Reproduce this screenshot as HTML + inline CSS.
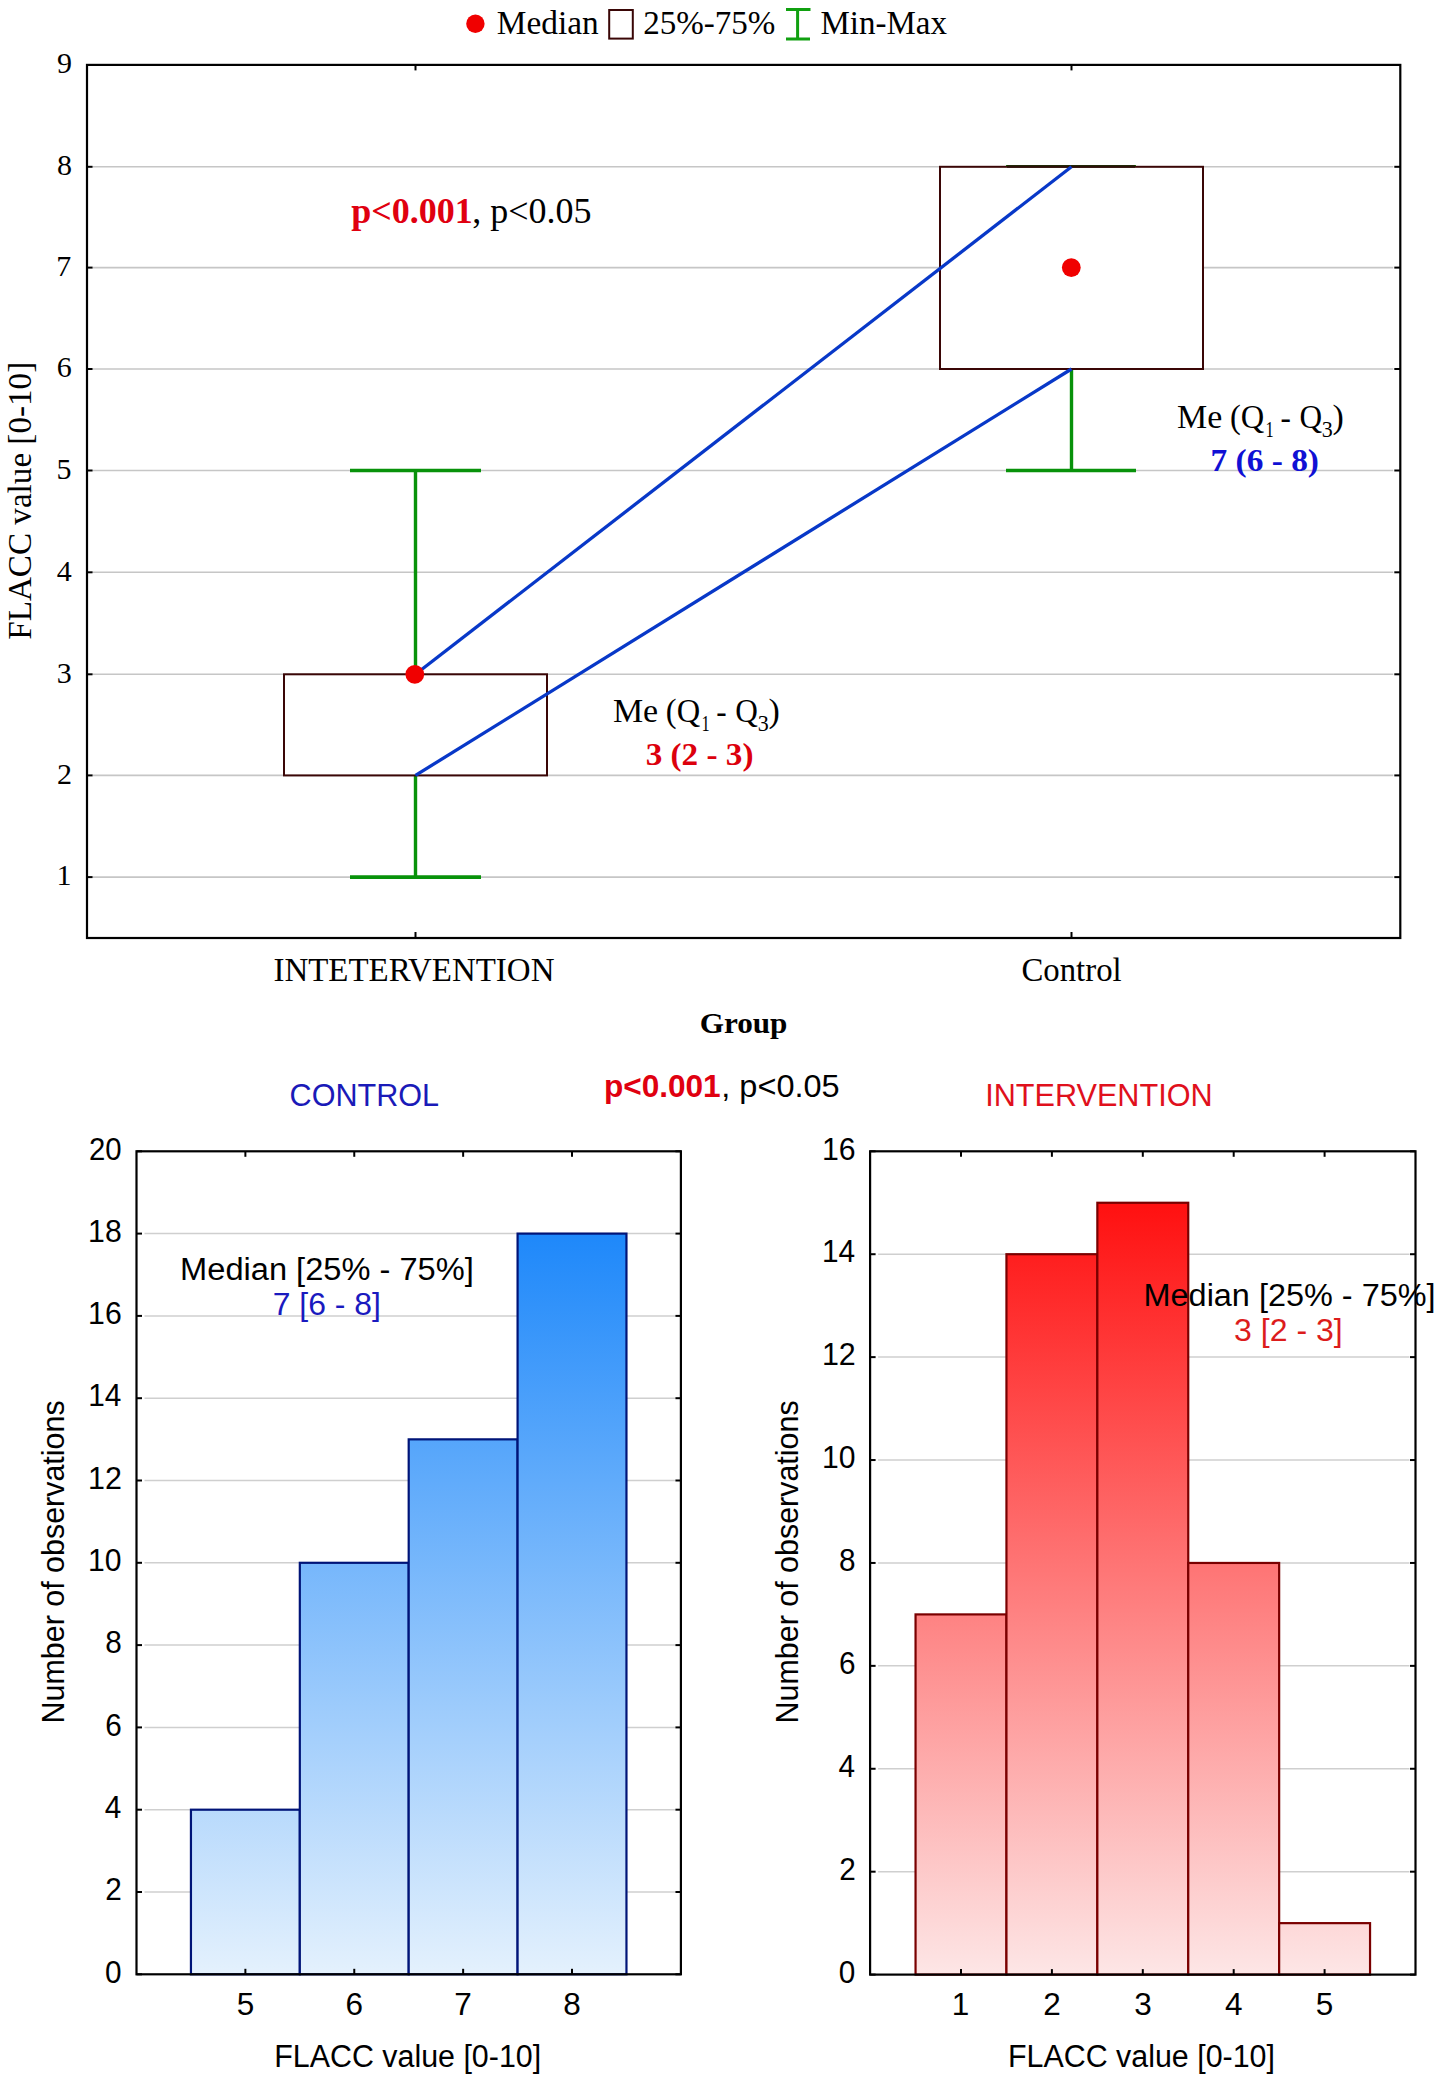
<!DOCTYPE html>
<html><head><meta charset="utf-8"><style>
html,body{margin:0;padding:0;background:#fff;overflow:hidden;}
svg{display:block;}
</style></head><body>
<svg width="1441" height="2081" viewBox="0 0 1441 2081">
<rect width="1441" height="2081" fill="#fff"/>
<line x1="92" y1="877.10" x2="1393.3" y2="877.10" stroke="#c6c6c6" stroke-width="1.6"/>
<line x1="92" y1="775.40" x2="1393.3" y2="775.40" stroke="#c6c6c6" stroke-width="1.6"/>
<line x1="92" y1="674.30" x2="1393.3" y2="674.30" stroke="#c6c6c6" stroke-width="1.6"/>
<line x1="92" y1="572.30" x2="1393.3" y2="572.30" stroke="#c6c6c6" stroke-width="1.6"/>
<line x1="92" y1="470.50" x2="1393.3" y2="470.50" stroke="#c6c6c6" stroke-width="1.6"/>
<line x1="92" y1="369.00" x2="1393.3" y2="369.00" stroke="#c6c6c6" stroke-width="1.6"/>
<line x1="92" y1="267.60" x2="1393.3" y2="267.60" stroke="#c6c6c6" stroke-width="1.6"/>
<line x1="92" y1="166.80" x2="1393.3" y2="166.80" stroke="#c6c6c6" stroke-width="1.6"/>
<line x1="87" y1="877.10" x2="92.5" y2="877.10" stroke="#000" stroke-width="2"/>
<line x1="1394.3" y1="877.10" x2="1400.3" y2="877.10" stroke="#000" stroke-width="2"/>
<line x1="87" y1="775.40" x2="92.5" y2="775.40" stroke="#000" stroke-width="2"/>
<line x1="1394.3" y1="775.40" x2="1400.3" y2="775.40" stroke="#000" stroke-width="2"/>
<line x1="87" y1="674.30" x2="92.5" y2="674.30" stroke="#000" stroke-width="2"/>
<line x1="1394.3" y1="674.30" x2="1400.3" y2="674.30" stroke="#000" stroke-width="2"/>
<line x1="87" y1="572.30" x2="92.5" y2="572.30" stroke="#000" stroke-width="2"/>
<line x1="1394.3" y1="572.30" x2="1400.3" y2="572.30" stroke="#000" stroke-width="2"/>
<line x1="87" y1="470.50" x2="92.5" y2="470.50" stroke="#000" stroke-width="2"/>
<line x1="1394.3" y1="470.50" x2="1400.3" y2="470.50" stroke="#000" stroke-width="2"/>
<line x1="87" y1="369.00" x2="92.5" y2="369.00" stroke="#000" stroke-width="2"/>
<line x1="1394.3" y1="369.00" x2="1400.3" y2="369.00" stroke="#000" stroke-width="2"/>
<line x1="87" y1="267.60" x2="92.5" y2="267.60" stroke="#000" stroke-width="2"/>
<line x1="1394.3" y1="267.60" x2="1400.3" y2="267.60" stroke="#000" stroke-width="2"/>
<line x1="87" y1="166.80" x2="92.5" y2="166.80" stroke="#000" stroke-width="2"/>
<line x1="1394.3" y1="166.80" x2="1400.3" y2="166.80" stroke="#000" stroke-width="2"/>
<line x1="87" y1="65.00" x2="92.5" y2="65.00" stroke="#000" stroke-width="2"/>
<line x1="1394.3" y1="65.00" x2="1400.3" y2="65.00" stroke="#000" stroke-width="2"/>
<line x1="415.5" y1="64.9" x2="415.5" y2="70.4" stroke="#000" stroke-width="2"/>
<line x1="415.5" y1="938" x2="415.5" y2="932" stroke="#000" stroke-width="2"/>
<line x1="1071.5" y1="64.9" x2="1071.5" y2="70.4" stroke="#000" stroke-width="2"/>
<line x1="1071.5" y1="938" x2="1071.5" y2="932" stroke="#000" stroke-width="2"/>
<text x="56.48" y="885.40" font-family="Liberation Serif" font-size="30" fill="#000">1</text>
<text x="57.07" y="783.70" font-family="Liberation Serif" font-size="30" fill="#000">2</text>
<text x="56.77" y="682.60" font-family="Liberation Serif" font-size="30" fill="#000">3</text>
<text x="56.84" y="580.60" font-family="Liberation Serif" font-size="30" fill="#000">4</text>
<text x="56.61" y="478.80" font-family="Liberation Serif" font-size="30" fill="#000">5</text>
<text x="56.70" y="377.30" font-family="Liberation Serif" font-size="30" fill="#000">6</text>
<text x="56.34" y="275.90" font-family="Liberation Serif" font-size="30" fill="#000">7</text>
<text x="56.90" y="175.10" font-family="Liberation Serif" font-size="30" fill="#000">8</text>
<text x="57.03" y="73.30" font-family="Liberation Serif" font-size="30" fill="#000">9</text>
<line x1="415.5" y1="470.50" x2="415.5" y2="877.10" stroke="#08920a" stroke-width="3.4"/>
<line x1="350" y1="470.50" x2="481" y2="470.50" stroke="#08920a" stroke-width="3.6"/>
<line x1="350" y1="877.10" x2="481" y2="877.10" stroke="#08920a" stroke-width="3.6"/>
<line x1="1071.5" y1="369.00" x2="1071.5" y2="470.50" stroke="#08920a" stroke-width="3.4"/>
<line x1="1006" y1="470.50" x2="1136" y2="470.50" stroke="#08920a" stroke-width="3.6"/>
<line x1="1006" y1="166.80" x2="1136" y2="166.80" stroke="#08920a" stroke-width="3.6"/>
<rect x="284" y="674.30" width="263" height="101.10" fill="#fff" stroke="#3a0606" stroke-width="2"/>
<rect x="940" y="166.80" width="263" height="202.20" fill="#fff" stroke="#3a0606" stroke-width="2"/>
<line x1="1007" y1="166.50" x2="1135" y2="166.50" stroke="#2a1008" stroke-width="2.3"/>
<line x1="415.5" y1="674.30" x2="1071.5" y2="166.80" stroke="#0838c8" stroke-width="3.3"/>
<line x1="415.5" y1="775.40" x2="1071.5" y2="369.00" stroke="#0838c8" stroke-width="3.3"/>
<circle cx="414.8" cy="674.30" r="9.4" fill="#f00000"/>
<circle cx="1071.3" cy="267.60" r="9.4" fill="#f00000"/>
<rect x="87" y="64.9" width="1313.30" height="873.10" fill="none" stroke="#000" stroke-width="2.2"/>
<circle cx="475.4" cy="23.8" r="9.2" fill="#f00000"/>
<text x="496.84" y="34.30" font-family="Liberation Serif" font-size="33" fill="#000" textLength="101.76" lengthAdjust="spacingAndGlyphs">Median</text>
<rect x="609.2" y="10" width="23.6" height="28.6" fill="none" stroke="#3a0606" stroke-width="2"/>
<text x="643.15" y="34.30" font-family="Liberation Serif" font-size="33" fill="#000" textLength="132.28" lengthAdjust="spacingAndGlyphs">25%-75%</text>
<path d="M786,9.6 H810.5 M797.6,9.6 V39 M786,39 H810" stroke="#10a010" stroke-width="3" fill="none"/>
<text x="820.45" y="34.30" font-family="Liberation Serif" font-size="33" fill="#000">Min-Max</text>
<text x="351.24" y="222.70" font-family="Liberation Serif" font-size="36" font-weight="bold" fill="#e00010">p&lt;0.001</text>
<text x="472.13" y="222.70" font-family="Liberation Serif" font-size="36" fill="#000">, p&lt;0.05</text>
<text x="612.92" y="721.90" font-family="Liberation Serif" font-size="33" fill="#000" textLength="45.26" lengthAdjust="spacingAndGlyphs">Me</text>
<text x="665.87" y="721.90" font-family="Liberation Serif" font-size="33" fill="#000" textLength="34.28" lengthAdjust="spacingAndGlyphs">(Q</text>
<text x="701.45" y="730.70" font-family="Liberation Serif" font-size="23.5" fill="#000" textLength="8.24" lengthAdjust="spacingAndGlyphs">1</text>
<text x="716.34" y="723.20" font-family="Liberation Serif" font-size="33" fill="#000" textLength="10.38" lengthAdjust="spacingAndGlyphs">-</text>
<text x="735.32" y="721.90" font-family="Liberation Serif" font-size="33" fill="#000" textLength="22.62" lengthAdjust="spacingAndGlyphs">Q</text>
<text x="757.65" y="730.70" font-family="Liberation Serif" font-size="23.5" fill="#000" textLength="11.01" lengthAdjust="spacingAndGlyphs">3</text>
<text x="768.41" y="721.90" font-family="Liberation Serif" font-size="33" fill="#000" textLength="11.28" lengthAdjust="spacingAndGlyphs">)</text>
<text x="645.65" y="764.90" font-family="Liberation Serif" font-size="31.5" font-weight="bold" fill="#dc000c" textLength="107.81" lengthAdjust="spacingAndGlyphs">3 (2 - 3)</text>
<text x="1177.02" y="427.70" font-family="Liberation Serif" font-size="33" fill="#000" textLength="45.25" lengthAdjust="spacingAndGlyphs">Me</text>
<text x="1229.97" y="427.70" font-family="Liberation Serif" font-size="33" fill="#000" textLength="34.28" lengthAdjust="spacingAndGlyphs">(Q</text>
<text x="1265.55" y="436.50" font-family="Liberation Serif" font-size="23.5" fill="#000" textLength="8.24" lengthAdjust="spacingAndGlyphs">1</text>
<text x="1280.44" y="429.00" font-family="Liberation Serif" font-size="33" fill="#000" textLength="10.38" lengthAdjust="spacingAndGlyphs">-</text>
<text x="1299.42" y="427.70" font-family="Liberation Serif" font-size="33" fill="#000" textLength="22.62" lengthAdjust="spacingAndGlyphs">Q</text>
<text x="1321.75" y="436.50" font-family="Liberation Serif" font-size="23.5" fill="#000" textLength="11.01" lengthAdjust="spacingAndGlyphs">3</text>
<text x="1332.51" y="427.70" font-family="Liberation Serif" font-size="33" fill="#000" textLength="11.28" lengthAdjust="spacingAndGlyphs">)</text>
<text x="1210.59" y="470.70" font-family="Liberation Serif" font-size="31.5" font-weight="bold" fill="#1010d4" textLength="108.37" lengthAdjust="spacingAndGlyphs">7 (6 - 8)</text>
<text x="273.42" y="980.60" font-family="Liberation Serif" font-size="33" fill="#000" textLength="281.03" lengthAdjust="spacingAndGlyphs">INTETERVENTION</text>
<text x="1021.46" y="980.60" font-family="Liberation Serif" font-size="33" fill="#000" textLength="100.20" lengthAdjust="spacingAndGlyphs">Control</text>
<text x="699.69" y="1033.20" font-family="Liberation Serif" font-size="30" font-weight="bold" fill="#000" textLength="87.77" lengthAdjust="spacingAndGlyphs">Group</text>
<g transform="translate(30.6,638.8) rotate(-90)"><text x="-0.95" y="0.00" font-family="Liberation Serif" font-size="33" fill="#000" textLength="277.91" lengthAdjust="spacingAndGlyphs">FLACC value [0-10]</text></g>
<text x="289.55" y="1106.20" font-family="Liberation Sans" font-size="31" fill="#1a1ab8" textLength="149.57" lengthAdjust="spacingAndGlyphs">CONTROL</text>
<text x="603.92" y="1096.70" font-family="Liberation Sans" font-size="31.5" font-weight="bold" fill="#e00010" textLength="116.76" lengthAdjust="spacingAndGlyphs">p&lt;0.001</text>
<text x="721.28" y="1096.70" font-family="Liberation Sans" font-size="32" fill="#000" textLength="118.39" lengthAdjust="spacingAndGlyphs">, p&lt;0.05</text>
<text x="985.18" y="1106.20" font-family="Liberation Sans" font-size="31" fill="#e0101c" textLength="227.41" lengthAdjust="spacingAndGlyphs">INTERVENTION</text>
<line x1="144.5" y1="1892.00" x2="674.9" y2="1892.00" stroke="#cfcfcf" stroke-width="1.5"/>
<line x1="144.5" y1="1809.70" x2="674.9" y2="1809.70" stroke="#cfcfcf" stroke-width="1.5"/>
<line x1="144.5" y1="1727.40" x2="674.9" y2="1727.40" stroke="#cfcfcf" stroke-width="1.5"/>
<line x1="144.5" y1="1645.10" x2="674.9" y2="1645.10" stroke="#cfcfcf" stroke-width="1.5"/>
<line x1="144.5" y1="1562.80" x2="674.9" y2="1562.80" stroke="#cfcfcf" stroke-width="1.5"/>
<line x1="144.5" y1="1480.50" x2="674.9" y2="1480.50" stroke="#cfcfcf" stroke-width="1.5"/>
<line x1="144.5" y1="1398.20" x2="674.9" y2="1398.20" stroke="#cfcfcf" stroke-width="1.5"/>
<line x1="144.5" y1="1315.90" x2="674.9" y2="1315.90" stroke="#cfcfcf" stroke-width="1.5"/>
<line x1="144.5" y1="1233.60" x2="674.9" y2="1233.60" stroke="#cfcfcf" stroke-width="1.5"/>
<defs><linearGradient id="gb" gradientUnits="userSpaceOnUse" x1="0" y1="1233.60" x2="0" y2="1974.30"><stop offset="0" stop-color="#1e88fa"/><stop offset="1" stop-color="#e4f1fd"/></linearGradient></defs>
<rect x="190.94" y="1809.70" width="108.88" height="164.60" fill="url(#gb)" stroke="#001478" stroke-width="2.2"/>
<rect x="299.82" y="1562.80" width="108.88" height="411.50" fill="url(#gb)" stroke="#001478" stroke-width="2.2"/>
<rect x="408.70" y="1439.35" width="108.88" height="534.95" fill="url(#gb)" stroke="#001478" stroke-width="2.2"/>
<rect x="517.58" y="1233.60" width="108.88" height="740.70" fill="url(#gb)" stroke="#001478" stroke-width="2.2"/>
<line x1="136.5" y1="1974.30" x2="142.0" y2="1974.30" stroke="#000" stroke-width="2"/>
<line x1="675.4" y1="1974.30" x2="680.9" y2="1974.30" stroke="#000" stroke-width="2"/>
<text x="105.01" y="1982.50" font-family="Liberation Sans" font-size="31" fill="#000" textLength="16.55" lengthAdjust="spacingAndGlyphs">0</text>
<line x1="136.5" y1="1892.00" x2="142.0" y2="1892.00" stroke="#000" stroke-width="2"/>
<line x1="675.4" y1="1892.00" x2="680.9" y2="1892.00" stroke="#000" stroke-width="2"/>
<text x="105.35" y="1900.20" font-family="Liberation Sans" font-size="31" fill="#000" textLength="16.55" lengthAdjust="spacingAndGlyphs">2</text>
<line x1="136.5" y1="1809.70" x2="142.0" y2="1809.70" stroke="#000" stroke-width="2"/>
<line x1="675.4" y1="1809.70" x2="680.9" y2="1809.70" stroke="#000" stroke-width="2"/>
<text x="104.72" y="1817.90" font-family="Liberation Sans" font-size="31" fill="#000" textLength="16.55" lengthAdjust="spacingAndGlyphs">4</text>
<line x1="136.5" y1="1727.40" x2="142.0" y2="1727.40" stroke="#000" stroke-width="2"/>
<line x1="675.4" y1="1727.40" x2="680.9" y2="1727.40" stroke="#000" stroke-width="2"/>
<text x="105.16" y="1735.60" font-family="Liberation Sans" font-size="31" fill="#000" textLength="16.55" lengthAdjust="spacingAndGlyphs">6</text>
<line x1="136.5" y1="1645.10" x2="142.0" y2="1645.10" stroke="#000" stroke-width="2"/>
<line x1="675.4" y1="1645.10" x2="680.9" y2="1645.10" stroke="#000" stroke-width="2"/>
<text x="105.14" y="1653.30" font-family="Liberation Sans" font-size="31" fill="#000" textLength="16.55" lengthAdjust="spacingAndGlyphs">8</text>
<line x1="136.5" y1="1562.80" x2="142.0" y2="1562.80" stroke="#000" stroke-width="2"/>
<line x1="675.4" y1="1562.80" x2="680.9" y2="1562.80" stroke="#000" stroke-width="2"/>
<text x="88.11" y="1571.00" font-family="Liberation Sans" font-size="31" fill="#000" textLength="33.47" lengthAdjust="spacingAndGlyphs">10</text>
<line x1="136.5" y1="1480.50" x2="142.0" y2="1480.50" stroke="#000" stroke-width="2"/>
<line x1="675.4" y1="1480.50" x2="680.9" y2="1480.50" stroke="#000" stroke-width="2"/>
<text x="88.08" y="1488.70" font-family="Liberation Sans" font-size="31" fill="#000" textLength="33.85" lengthAdjust="spacingAndGlyphs">12</text>
<line x1="136.5" y1="1398.20" x2="142.0" y2="1398.20" stroke="#000" stroke-width="2"/>
<line x1="675.4" y1="1398.20" x2="680.9" y2="1398.20" stroke="#000" stroke-width="2"/>
<text x="88.13" y="1406.40" font-family="Liberation Sans" font-size="31" fill="#000" textLength="33.14" lengthAdjust="spacingAndGlyphs">14</text>
<line x1="136.5" y1="1315.90" x2="142.0" y2="1315.90" stroke="#000" stroke-width="2"/>
<line x1="675.4" y1="1315.90" x2="680.9" y2="1315.90" stroke="#000" stroke-width="2"/>
<text x="88.10" y="1324.10" font-family="Liberation Sans" font-size="31" fill="#000" textLength="33.63" lengthAdjust="spacingAndGlyphs">16</text>
<line x1="136.5" y1="1233.60" x2="142.0" y2="1233.60" stroke="#000" stroke-width="2"/>
<line x1="675.4" y1="1233.60" x2="680.9" y2="1233.60" stroke="#000" stroke-width="2"/>
<text x="88.10" y="1241.80" font-family="Liberation Sans" font-size="31" fill="#000" textLength="33.62" lengthAdjust="spacingAndGlyphs">18</text>
<line x1="136.5" y1="1151.30" x2="142.0" y2="1151.30" stroke="#000" stroke-width="2"/>
<line x1="675.4" y1="1151.30" x2="680.9" y2="1151.30" stroke="#000" stroke-width="2"/>
<text x="88.93" y="1159.50" font-family="Liberation Sans" font-size="31" fill="#000" textLength="32.62" lengthAdjust="spacingAndGlyphs">20</text>
<line x1="245.38" y1="1151.3" x2="245.38" y2="1156.8" stroke="#000" stroke-width="2"/>
<line x1="245.38" y1="1974.3" x2="245.38" y2="1968.8" stroke="#000" stroke-width="2"/>
<text x="236.65" y="2015.20" font-family="Liberation Sans" font-size="31.5" fill="#000">5</text>
<line x1="354.26" y1="1151.3" x2="354.26" y2="1156.8" stroke="#000" stroke-width="2"/>
<line x1="354.26" y1="1974.3" x2="354.26" y2="1968.8" stroke="#000" stroke-width="2"/>
<text x="345.39" y="2015.20" font-family="Liberation Sans" font-size="31.5" fill="#000">6</text>
<line x1="463.14" y1="1151.3" x2="463.14" y2="1156.8" stroke="#000" stroke-width="2"/>
<line x1="463.14" y1="1974.3" x2="463.14" y2="1968.8" stroke="#000" stroke-width="2"/>
<text x="454.37" y="2015.20" font-family="Liberation Sans" font-size="31.5" fill="#000">7</text>
<line x1="572.02" y1="1151.3" x2="572.02" y2="1156.8" stroke="#000" stroke-width="2"/>
<line x1="572.02" y1="1974.3" x2="572.02" y2="1968.8" stroke="#000" stroke-width="2"/>
<text x="563.26" y="2015.20" font-family="Liberation Sans" font-size="31.5" fill="#000">8</text>
<rect x="136.5" y="1151.3" width="544.40" height="823.00" fill="none" stroke="#000" stroke-width="2.2"/>
<text x="274.21" y="2066.50" font-family="Liberation Sans" font-size="31" fill="#000" textLength="266.96" lengthAdjust="spacingAndGlyphs">FLACC value [0-10]</text>
<g transform="translate(63.80,1720.9) rotate(-90)"><text x="-2.50" y="0.00" font-family="Liberation Sans" font-size="32" fill="#000" textLength="323.00" lengthAdjust="spacingAndGlyphs">Number of observations</text></g>
<text x="180.13" y="1279.60" font-family="Liberation Sans" font-size="31" fill="#000" textLength="293.60" lengthAdjust="spacingAndGlyphs">Median [25% - 75%]</text>
<text x="272.76" y="1315.30" font-family="Liberation Sans" font-size="31" fill="#1a1abf" textLength="108.21" lengthAdjust="spacingAndGlyphs">7 [6 - 8]</text>
<line x1="878.1" y1="1871.69" x2="1409.5" y2="1871.69" stroke="#cfcfcf" stroke-width="1.5"/>
<line x1="878.1" y1="1768.77" x2="1409.5" y2="1768.77" stroke="#cfcfcf" stroke-width="1.5"/>
<line x1="878.1" y1="1665.86" x2="1409.5" y2="1665.86" stroke="#cfcfcf" stroke-width="1.5"/>
<line x1="878.1" y1="1562.95" x2="1409.5" y2="1562.95" stroke="#cfcfcf" stroke-width="1.5"/>
<line x1="878.1" y1="1460.04" x2="1409.5" y2="1460.04" stroke="#cfcfcf" stroke-width="1.5"/>
<line x1="878.1" y1="1357.12" x2="1409.5" y2="1357.12" stroke="#cfcfcf" stroke-width="1.5"/>
<line x1="878.1" y1="1254.21" x2="1409.5" y2="1254.21" stroke="#cfcfcf" stroke-width="1.5"/>
<defs><linearGradient id="gr" gradientUnits="userSpaceOnUse" x1="0" y1="1202.76" x2="0" y2="1974.60"><stop offset="0" stop-color="#ff1010"/><stop offset="1" stop-color="#fde6e6"/></linearGradient></defs>
<rect x="915.55" y="1614.41" width="90.90" height="360.19" fill="url(#gr)" stroke="#7a0000" stroke-width="2.2"/>
<rect x="1006.45" y="1254.21" width="90.90" height="720.39" fill="url(#gr)" stroke="#7a0000" stroke-width="2.2"/>
<rect x="1097.35" y="1202.76" width="90.90" height="771.84" fill="url(#gr)" stroke="#7a0000" stroke-width="2.2"/>
<rect x="1188.25" y="1562.95" width="90.90" height="411.65" fill="url(#gr)" stroke="#7a0000" stroke-width="2.2"/>
<rect x="1279.15" y="1923.14" width="90.90" height="51.46" fill="url(#gr)" stroke="#7a0000" stroke-width="2.2"/>
<line x1="870.1" y1="1974.60" x2="875.6" y2="1974.60" stroke="#000" stroke-width="2"/>
<line x1="1410.0" y1="1974.60" x2="1415.5" y2="1974.60" stroke="#000" stroke-width="2"/>
<text x="838.81" y="1982.80" font-family="Liberation Sans" font-size="31" fill="#000" textLength="16.55" lengthAdjust="spacingAndGlyphs">0</text>
<line x1="870.1" y1="1871.69" x2="875.6" y2="1871.69" stroke="#000" stroke-width="2"/>
<line x1="1410.0" y1="1871.69" x2="1415.5" y2="1871.69" stroke="#000" stroke-width="2"/>
<text x="839.15" y="1879.89" font-family="Liberation Sans" font-size="31" fill="#000" textLength="16.55" lengthAdjust="spacingAndGlyphs">2</text>
<line x1="870.1" y1="1768.77" x2="875.6" y2="1768.77" stroke="#000" stroke-width="2"/>
<line x1="1410.0" y1="1768.77" x2="1415.5" y2="1768.77" stroke="#000" stroke-width="2"/>
<text x="838.52" y="1776.97" font-family="Liberation Sans" font-size="31" fill="#000" textLength="16.55" lengthAdjust="spacingAndGlyphs">4</text>
<line x1="870.1" y1="1665.86" x2="875.6" y2="1665.86" stroke="#000" stroke-width="2"/>
<line x1="1410.0" y1="1665.86" x2="1415.5" y2="1665.86" stroke="#000" stroke-width="2"/>
<text x="838.96" y="1674.06" font-family="Liberation Sans" font-size="31" fill="#000" textLength="16.55" lengthAdjust="spacingAndGlyphs">6</text>
<line x1="870.1" y1="1562.95" x2="875.6" y2="1562.95" stroke="#000" stroke-width="2"/>
<line x1="1410.0" y1="1562.95" x2="1415.5" y2="1562.95" stroke="#000" stroke-width="2"/>
<text x="838.94" y="1571.15" font-family="Liberation Sans" font-size="31" fill="#000" textLength="16.55" lengthAdjust="spacingAndGlyphs">8</text>
<line x1="870.1" y1="1460.04" x2="875.6" y2="1460.04" stroke="#000" stroke-width="2"/>
<line x1="1410.0" y1="1460.04" x2="1415.5" y2="1460.04" stroke="#000" stroke-width="2"/>
<text x="821.91" y="1468.24" font-family="Liberation Sans" font-size="31" fill="#000" textLength="33.47" lengthAdjust="spacingAndGlyphs">10</text>
<line x1="870.1" y1="1357.12" x2="875.6" y2="1357.12" stroke="#000" stroke-width="2"/>
<line x1="1410.0" y1="1357.12" x2="1415.5" y2="1357.12" stroke="#000" stroke-width="2"/>
<text x="821.88" y="1365.33" font-family="Liberation Sans" font-size="31" fill="#000" textLength="33.85" lengthAdjust="spacingAndGlyphs">12</text>
<line x1="870.1" y1="1254.21" x2="875.6" y2="1254.21" stroke="#000" stroke-width="2"/>
<line x1="1410.0" y1="1254.21" x2="1415.5" y2="1254.21" stroke="#000" stroke-width="2"/>
<text x="821.93" y="1262.41" font-family="Liberation Sans" font-size="31" fill="#000" textLength="33.14" lengthAdjust="spacingAndGlyphs">14</text>
<line x1="870.1" y1="1151.30" x2="875.6" y2="1151.30" stroke="#000" stroke-width="2"/>
<line x1="1410.0" y1="1151.30" x2="1415.5" y2="1151.30" stroke="#000" stroke-width="2"/>
<text x="821.90" y="1159.50" font-family="Liberation Sans" font-size="31" fill="#000" textLength="33.63" lengthAdjust="spacingAndGlyphs">16</text>
<line x1="961.00" y1="1151.3" x2="961.00" y2="1156.8" stroke="#000" stroke-width="2"/>
<line x1="961.00" y1="1974.6" x2="961.00" y2="1969.1" stroke="#000" stroke-width="2"/>
<text x="951.81" y="2015.20" font-family="Liberation Sans" font-size="31.5" fill="#000">1</text>
<line x1="1051.90" y1="1151.3" x2="1051.90" y2="1156.8" stroke="#000" stroke-width="2"/>
<line x1="1051.90" y1="1974.6" x2="1051.90" y2="1969.1" stroke="#000" stroke-width="2"/>
<text x="1043.14" y="2015.20" font-family="Liberation Sans" font-size="31.5" fill="#000">2</text>
<line x1="1142.80" y1="1151.3" x2="1142.80" y2="1156.8" stroke="#000" stroke-width="2"/>
<line x1="1142.80" y1="1974.6" x2="1142.80" y2="1969.1" stroke="#000" stroke-width="2"/>
<text x="1134.13" y="2015.20" font-family="Liberation Sans" font-size="31.5" fill="#000">3</text>
<line x1="1233.70" y1="1151.3" x2="1233.70" y2="1156.8" stroke="#000" stroke-width="2"/>
<line x1="1233.70" y1="1974.6" x2="1233.70" y2="1969.1" stroke="#000" stroke-width="2"/>
<text x="1225.04" y="2015.20" font-family="Liberation Sans" font-size="31.5" fill="#000">4</text>
<line x1="1324.60" y1="1151.3" x2="1324.60" y2="1156.8" stroke="#000" stroke-width="2"/>
<line x1="1324.60" y1="1974.6" x2="1324.60" y2="1969.1" stroke="#000" stroke-width="2"/>
<text x="1315.87" y="2015.20" font-family="Liberation Sans" font-size="31.5" fill="#000">5</text>
<rect x="870.1" y="1151.3" width="545.40" height="823.30" fill="none" stroke="#000" stroke-width="2.2"/>
<text x="1008.01" y="2066.50" font-family="Liberation Sans" font-size="31" fill="#000" textLength="266.96" lengthAdjust="spacingAndGlyphs">FLACC value [0-10]</text>
<g transform="translate(797.60,1720.9) rotate(-90)"><text x="-2.50" y="0.00" font-family="Liberation Sans" font-size="32" fill="#000" textLength="323.00" lengthAdjust="spacingAndGlyphs">Number of observations</text></g>
<text x="1143.54" y="1305.50" font-family="Liberation Sans" font-size="31" fill="#000" textLength="292.07" lengthAdjust="spacingAndGlyphs">Median [25% - 75%]</text>
<text x="1234.08" y="1341.10" font-family="Liberation Sans" font-size="31" fill="#dc1c1c" textLength="108.60" lengthAdjust="spacingAndGlyphs">3 [2 - 3]</text>
</svg>
</body></html>
